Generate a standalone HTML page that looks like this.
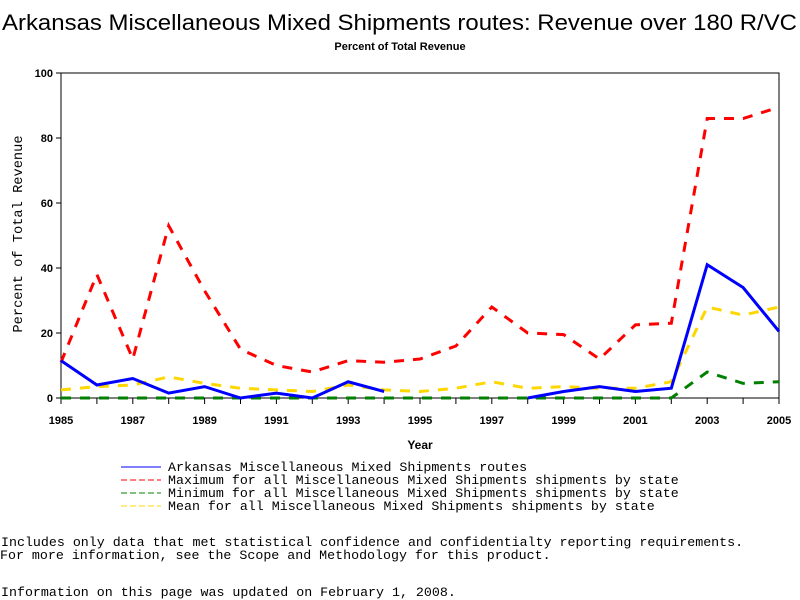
<!DOCTYPE html>
<html><head><meta charset="utf-8"><style>
body{margin:0;background:#fff;width:800px;height:600px;overflow:hidden;position:relative}
.m{font-family:"Liberation Mono",monospace;font-size:13.3px;position:absolute;white-space:pre;color:#000}
</style></head><body>
<svg width="800" height="600" style="position:absolute;left:0;top:0">
<text x="2" y="30" textLength="795" lengthAdjust="spacingAndGlyphs" font-family="Liberation Sans,sans-serif" font-size="22">Arkansas Miscellaneous Mixed Shipments routes: Revenue over 180 R/VC</text>
<text x="400" y="50" text-anchor="middle" font-family="Liberation Sans,sans-serif" font-size="11" font-weight="bold">Percent of Total Revenue</text>
<g id="plot"></g>
<text x="420" y="449" text-anchor="middle" font-family="Liberation Sans,sans-serif" font-size="12" font-weight="bold">Year</text>
<text transform="translate(22,234) rotate(-90)" text-anchor="middle" font-family="Liberation Mono,monospace" font-size="13.7">Percent of Total Revenue</text>
<g>
<line x1="121" y1="467" x2="161" y2="467" stroke="#0000ff" stroke-width="1"/>
<line x1="121" y1="480" x2="161" y2="480" stroke="#ff0000" stroke-dasharray="6,3"/>
<line x1="121" y1="493" x2="161" y2="493" stroke="#008000" stroke-dasharray="6,3"/>
<line x1="121" y1="506" x2="161" y2="506" stroke="#ffd700" stroke-dasharray="6,3"/>
</g>
</svg>
<div class="m" style="left:168px;top:460px">Arkansas Miscellaneous Mixed Shipments routes</div>
<div class="m" style="left:168px;top:473px">Maximum for all Miscellaneous Mixed Shipments shipments by state</div>
<div class="m" style="left:168px;top:486px">Minimum for all Miscellaneous Mixed Shipments shipments by state</div>
<div class="m" style="left:168px;top:499px">Mean for all Miscellaneous Mixed Shipments shipments by state</div>
<div class="m" style="left:1px;top:535px">Includes only data that met statistical confidence and confidentialty reporting requirements.</div>
<div class="m" style="left:0px;top:548px">For more information, see the Scope and Methodology for this product.</div>
<div class="m" style="left:1px;top:585px">Information on this page was updated on February 1, 2008.</div>
<script>
const years=[1985,1986,1987,1988,1989,1990,1991,1992,1993,1994,1995,1996,1997,1998,1999,2000,2001,2002,2003,2004,2005];
const arkansas=[11.5,4,6,1.5,3.5,0,1.5,0,5,2,null,null,null,0,2,3.5,2,3,41,34,20.5];
const maxVals=[11,38,12,53,33,15,10,8,11.5,11,12,16,28,20,19.5,12,22.5,23,86,86,89.5];
const minVals=[0,0,0,0,0,0,0,0,0,0,0,0,0,0,0,0,0,0,8,4.5,5];
const meanVals=[2.5,3.5,4,6.5,4.5,3,2.5,2,4,2.5,2,3,5,3,3.5,3,3,5,28,25.5,28];
const yTicks=[0,20,40,60,80,100];
const xTickLabels=[1985,1987,1989,1991,1993,1995,1997,1999,2001,2003,2005];
const X0=61,X1=779,Y0=398,Y1=73;
const xs=y=>X0+(y-1985)/(2005-1985)*(X1-X0);
const ys=v=>Y0-v/100*(Y0-Y1);
const NS="http://www.w3.org/2000/svg";
const g=document.getElementById('plot');
function mk(t,a){const e=document.createElementNS(NS,t);for(const k in a)e.setAttribute(k,a[k]);g.appendChild(e);return e;}
let f=mk('rect',{x:X0,y:Y1,width:X1-X0,height:Y0-Y1,fill:'none',stroke:'#000','stroke-width':1});


yTicks.forEach(v=>{
 let l=mk('line',{x1:X0-5,x2:X0,y1:ys(v),y2:ys(v),stroke:'#000'});
 
 
 let t=mk('text',{x:X0-8,y:ys(v)+4,'text-anchor':'end','font-family':'Liberation Sans,sans-serif','font-size':11,'font-weight':'bold'});
 t.textContent=v;
 
 
});
years.forEach(y=>{
 let l=mk('line',{x1:xs(y),x2:xs(y),y1:Y0,y2:Y0+6,stroke:'#000'});
 
 
});
xTickLabels.forEach(y=>{
 let t=mk('text',{x:xs(y),y:Y0+26,'text-anchor':'middle','font-family':'Liberation Sans,sans-serif','font-size':11,'font-weight':'bold'});
 t.textContent=y;
 
 
});
function series(vals,color,dash,name){
 let d='',pen=false;
 vals.forEach((v,i)=>{if(v==null){pen=false;return;}d+=(pen?'L':'M')+xs(years[i])+','+ys(v)+' ';pen=true;});
 let p=mk('path',{d:d,fill:'none',stroke:color,'stroke-width':3,'stroke-dasharray':dash||'none'});
 
 
}
series(minVals,'#008000','10,9','series-minimum');
series(meanVals,'#ffd700','10,9','series-mean');
series(maxVals,'#ff0000','10,9','series-maximum');
series(arkansas,'#0000ff',null,'series-arkansas');
</script>
</body></html>
